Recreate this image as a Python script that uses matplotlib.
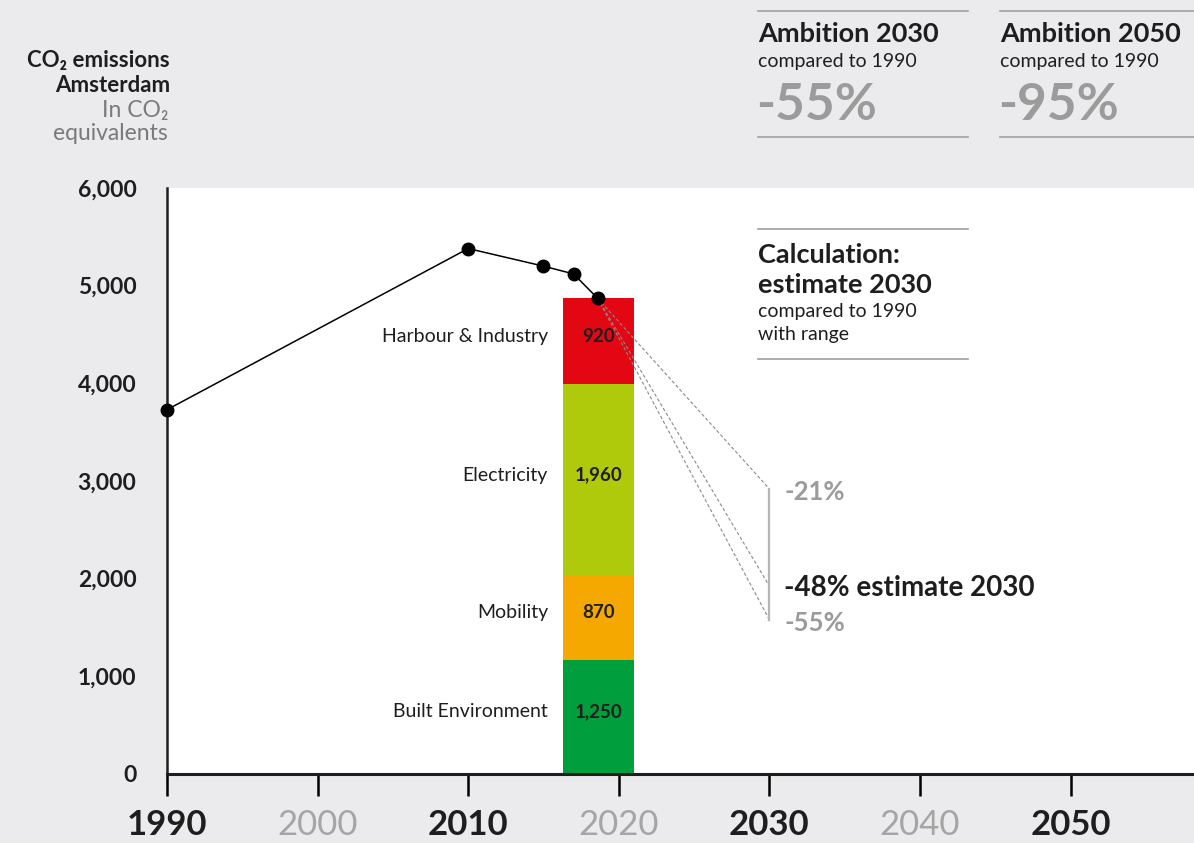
import matplotlib.pyplot as plt

plt.rcParams['font.family'] = ['Lato', 'DejaVu Sans']

# emissions line (kton CO2 eq.)
years = [1990, 2010, 2015, 2017, 2018.6]
emissions = [3730, 5380, 5200, 5120, 4870]

# 2018 bar, split by sector (bottom to top)
sectors = ['Built Environment', 'Mobility', 'Electricity', 'Harbour & Industry']
sector_labels = ['1,250', '870', '1,960', '920']
sector_heights = [1170, 860, 1960, 880]
sector_colors = ['#009e3d', '#f5a800', '#afca0b', '#e30613']
bar_year = 2018.65
bar_width = 4.7

# 2030 estimate range
range_year = 2030
range_ends = [2920, 1925, 1580]
range_labels = ['-21%', '-48% estimate 2030', '-55%']

xticks = [1990, 2000, 2010, 2020, 2030, 2040, 2050]
yticks = [0, 1000, 2000, 3000, 4000, 5000, 6000]

W, H = 1194, 843
bg = '#ebebed'
dark = '#1e1e1e'
grey = '#9b9b9b'


def fx(x):
    return x / W


def fy(y):
    return 1 - y / H


fig = plt.figure(figsize=(W / 100, H / 100), dpi=100, facecolor=bg)
ax = fig.add_axes([fx(167), fy(774), 1 - fx(167), fy(188) - fy(774)])
ax.set_facecolor('white')
ax.set_xlim(1990, 2058.2)
ax.set_ylim(0, 6000)

# stacked bar
bottom = 0
for name, lab, h, c in zip(sectors, sector_labels, sector_heights, sector_colors):
    ax.bar(bar_year, h, width=bar_width, bottom=bottom, color=c, zorder=2)
    mid = bottom + h / 2 + 50
    ax.text(bar_year, mid, lab, ha='center', va='center', fontsize=13.5,
            fontweight='bold', color=dark, zorder=4)
    ax.text(bar_year - bar_width / 2 - 1.0, mid, name, ha='right', va='center',
            fontsize=14, color=dark)
    bottom += h

# dashed projections to 2030
for end in range_ends:
    ax.plot([years[-1], range_year], [emissions[-1], end], ls=(0, (3, 2)),
            color='#8a8a8a', lw=0.8, zorder=3)
ax.plot([range_year, range_year], [min(range_ends), max(range_ends)],
        color='#b5b5b5', lw=1.6, zorder=3)
for end, lab in zip(range_ends, range_labels):
    strong = 'estimate' in lab
    ax.text(range_year + 1.0, end - 20 if strong else end - 30, lab,
            ha='left', va='center', fontsize=20 if strong else 18.5,
            fontweight='bold', color=dark if strong else grey)

# emissions line
ax.plot(years, emissions, color='black', lw=1.1, marker='o', markersize=9,
        zorder=5, clip_on=False)

# axes styling
for s in ['top', 'right']:
    ax.spines[s].set_visible(False)
ax.spines['left'].set_linewidth(1.8)
ax.spines['left'].set_color(dark)
ax.spines['bottom'].set_linewidth(2.2)
ax.spines['bottom'].set_color(dark)

ax.set_yticks(yticks)
ax.set_yticklabels([f'{v:,}' for v in yticks], fontsize=16.5, fontweight='bold',
                   color=dark)
ax.tick_params(axis='y', length=0, pad=22)

ax.set_xticks(xticks)
ax.set_xticklabels([str(v) for v in xticks], fontsize=25)
ax.tick_params(axis='x', length=16, width=1.8, direction='out', pad=9)
for i, (lab, tick) in enumerate(zip(ax.get_xticklabels(), ax.xaxis.get_major_ticks())):
    if i % 2 == 0:
        lab.set_color(dark)
        lab.set_fontweight('bold')
        tick.tick1line.set_color(dark)
    else:
        lab.set_color('#a5a5a5')
        tick.tick1line.set_color('#a5a5a5')

# y axis title
fig.text(fx(170), fy(60), 'CO₂ emissions', ha='right', va='center',
         fontsize=16, fontweight='bold', color=dark)
fig.text(fx(170), fy(85), 'Amsterdam', ha='right', va='center',
         fontsize=16, fontweight='bold', color=dark)
fig.text(fx(168), fy(110), 'In CO₂', ha='right', va='center',
         fontsize=16.5, color='#7a7a7a')
fig.text(fx(168), fy(134), 'equivalents', ha='right', va='center',
         fontsize=16.5, color='#7a7a7a')

# ambition boxes
for x0, x1, title, pct in [(758, 968, 'Ambition 2030', '-55%'),
                           (1000, 1194, 'Ambition 2050', '-95%')]:
    fig.add_artist(plt.Line2D([fx(x0), fx(x1)], [fy(11), fy(11)],
                              color='#a0a0a0', lw=1.2))
    fig.add_artist(plt.Line2D([fx(x0), fx(x1)], [fy(137), fy(137)],
                              color='#a0a0a0', lw=1.2))
    fig.text(fx(x0), fy(34), title, ha='left', va='center', fontsize=19.5,
             fontweight='bold', color=dark)
    fig.text(fx(x0), fy(62), 'compared to 1990', ha='left', va='center',
             fontsize=14, color=dark)
    fig.text(fx(x0 - 2), fy(106), pct, ha='left', va='center', fontsize=37,
             fontweight='bold', color=grey)

# calculation box
fig.add_artist(plt.Line2D([fx(758), fx(968)], [fy(229), fy(229)],
                          color='#a0a0a0', lw=1.2))
fig.add_artist(plt.Line2D([fx(758), fx(968)], [fy(359), fy(359)],
                          color='#a0a0a0', lw=1.2))
fig.text(fx(758), fy(255), 'Calculation:', ha='left', va='center',
         fontsize=19.5, fontweight='bold', color=dark)
fig.text(fx(758), fy(285), 'estimate 2030', ha='left', va='center',
         fontsize=19.5, fontweight='bold', color=dark)
fig.text(fx(758), fy(311), 'compared to 1990', ha='left', va='center',
         fontsize=14, color=dark)
fig.text(fx(758), fy(335), 'with range', ha='left', va='center',
         fontsize=14, color=dark)

fig.savefig('out.png', dpi=100, facecolor=bg)
